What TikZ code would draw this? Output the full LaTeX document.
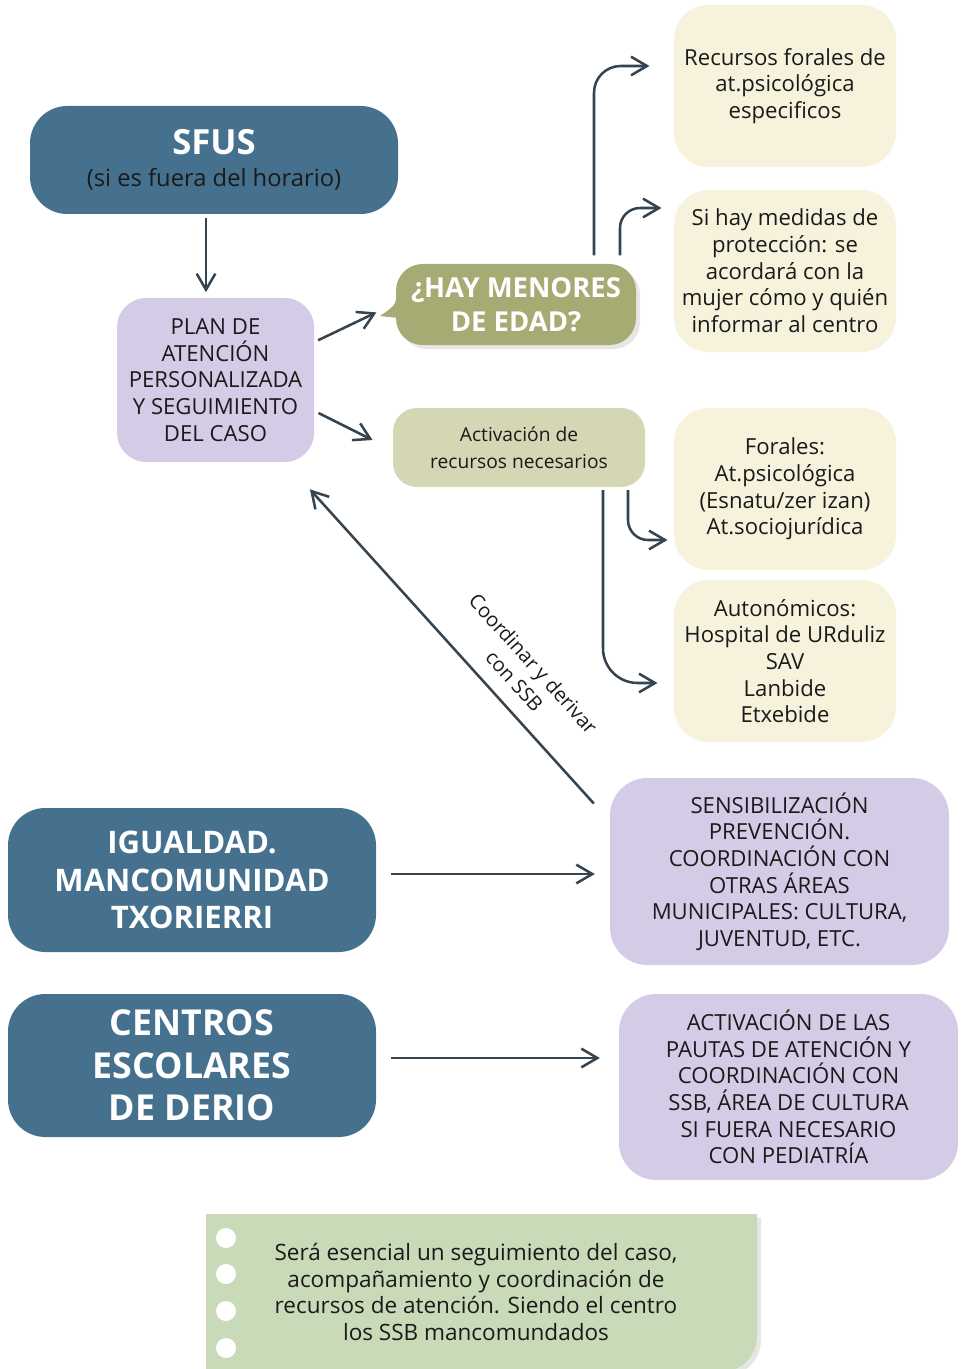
\documentclass[tikz,border=0pt]{standalone}
\usepackage{fontspec}
\setmainfont{Open Sans}
\usetikzlibrary{arrows.meta,shadows}

\definecolor{sfusblue}{RGB}{69,113,142}
\definecolor{lila}{RGB}{212,204,230}
\definecolor{olivebox}{RGB}{166,171,116}
\definecolor{lightolive}{RGB}{212,214,180}
\definecolor{cream}{RGB}{246,242,219}
\definecolor{notegreen}{RGB}{201,218,184}
\definecolor{arrowgrey}{RGB}{54,68,79}
\definecolor{darktext}{RGB}{26,26,26}

\tikzset{every picture/.style={line width=0.75pt}}

\begin{document}
\begin{tikzpicture}[x=0.75pt,y=0.75pt,yscale=-1,xscale=1,
  arr/.style={draw=arrowgrey,line width=1.9pt,-{Straight Barb[length=12pt,width=14pt,line width=1.9pt]}},
  bluebox/.style={fill=sfusblue,rounded corners=28pt,text=white,align=center,inner sep=0pt},
  lilabox/.style={fill=lila,rounded corners=22pt,text=darktext,align=center,inner sep=0pt},
  creambox/.style={fill=cream,rounded corners=26pt,text=darktext,align=center,inner sep=0pt,
    minimum width=166.5pt,minimum height=121.5pt,font=\fontsize{16.6}{20}\selectfont}]
    \useasboundingbox (0,0) rectangle (965,1369);

    %Shape: SFUS
    \node[bluebox,minimum width=276pt,minimum height=81pt,font=\fontsize{17.8}{24}\selectfont] (sfus) at (214,160)
      {{\fontsize{26}{24}\selectfont\bfseries SFUS}\\
       {\color{darktext}(si es fuera del horario)}};
    %Shape: plan de atencion
    \node[lilabox,minimum width=147.75pt,minimum height=123pt,font=\fontsize{16.6}{20}\selectfont] (plan) at (215.5,380)
      {PLAN DE\\ATENCIÓN\\PERSONALIZADA\\Y SEGUIMIENTO\\DEL CASO};
    %Shape: callout menores
    \node[fill=olivebox,rounded corners=20pt,minimum width=180pt,minimum height=60.75pt,inner sep=0pt,
      drop shadow={opacity=0.2,shadow xshift=3pt,shadow yshift=-3pt},
      text=white,align=center,font=\fontsize{20.6}{25.5}\selectfont\bfseries] (menores) at (516,304.5)
      {¿HAY MENORES\\DE EDAD?};
    \coordinate (tailtip) at (380,316);
    \fill[olivebox] (397,290) .. controls (396,305) .. (tailtip) -- (398,318) -- cycle;
    %Shape: activacion
    \node[fill=lightolive,rounded corners=18pt,minimum width=189pt,minimum height=59.25pt,inner sep=0pt,
      text=darktext,align=center,font=\fontsize{14.4}{20}\selectfont] (activ) at (519,447.5)
      {Activación de\\recursos necesarios};

    %Shape: cream boxes
    \node[creambox] (forales) at (785,86) {Recursos forales de\\at.psicológica\\especificos};
    \node[creambox] (medidas) at (785,271) {Si hay medidas de\\protección: se\\acordará con la\\mujer cómo y quién\\informar al centro};
    \node[creambox] (foralesdos) at (785,489) {Forales:\\At.psicológica\\(Esnatu/zer izan)\\At.sociojurídica};
    \node[creambox] (auton) at (785,661) {Autonómicos:\\Hospital de URduliz\\SAV\\Lanbide\\Etxebide};

    %Shape: igualdad / centros
    \node[bluebox,minimum width=276pt,minimum height=108pt,font=\fontsize{23.3}{28}\selectfont\bfseries] (igualdad) at (192,880)
      {IGUALDAD.\\MANCOMUNIDAD\\TXORIERRI};
    \node[bluebox,minimum width=276pt,minimum height=107.25pt,font=\fontsize{26.8}{32}\selectfont\bfseries] (centros) at (192,1065.5)
      {CENTROS\\ESCOLARES\\DE DERIO};
    \node[lilabox,rounded corners=28pt,minimum width=254.25pt,minimum height=140.25pt,font=\fontsize{16.6}{20}\selectfont] (sensib) at (779.5,871.5)
      {SENSIBILIZACIÓN\\PREVENCIÓN.\\COORDINACIÓN CON\\OTRAS ÁREAS\\MUNICIPALES: CULTURA,\\JUVENTUD, ETC.};
    \node[lilabox,rounded corners=28pt,minimum width=254.25pt,minimum height=139.5pt,font=\fontsize{16.6}{20}\selectfont] (pautas) at (788.5,1087)
      {ACTIVACIÓN DE LAS\\PAUTAS DE ATENCIÓN Y\\COORDINACIÓN CON\\SSB, ÁREA DE CULTURA\\SI FUERA NECESARIO\\CON PEDIATRÍA};

    %Shape: nota
    \fill[notegreen,drop shadow={opacity=0.2,shadow xshift=3pt,shadow yshift=-3pt}]
      (206,1214) -- (757,1214) [rounded corners=27pt] -- (757,1372) [sharp corners] -- (206,1372) -- cycle;
    \foreach \cy in {1238,1274,1311,1348}
      \fill[white] (226,\cy) circle (7.5pt);
    \node[text=darktext,align=center,font=\fontsize{16.9}{20}\selectfont] (nota) at (476,1292)
      {Será esencial un seguimiento del caso,\\acompañamiento y coordinación de\\recursos de atención. Siendo el centro\\los SSB mancomundados};

    %Straight Lines
    \draw[arr,shorten <=3pt,shorten >=4pt] (sfus.south -| 206,0) -- (plan.north -| 206,0);
    \draw[arr,shorten <=3pt,shorten >=3pt] (plan.east |- 0,342) -- ([yshift=-4pt]tailtip);
    \draw[arr,shorten <=3.4pt,shorten >=16.7pt] (plan.east |- 0,411) -- (activ.west |- 0,450);
    \draw[arr,shorten <=3pt,shorten >=15pt] ([shift={(-13,29)}]sensib.north west) -- ([shift={(-18,12)}]plan.south east);
    \node[rotate=-48,align=center,text=darktext,font=\fontsize{15}{19}\selectfont] (coordlabel) at (524,672)
      {Coordinar y derivar\\con SSB};
    \draw[arr,shorten <=11pt,shorten >=11pt] (igualdad.east |- 0,874) -- (sensib.west |- 0,874);
    \draw[arr,shorten <=11pt,shorten >=14pt] (centros.east |- 0,1058) -- (pautas.west |- 0,1058);

    %Curved Lines
    \draw[arr,rounded corners=20pt,shorten <=6pt,shorten >=18pt] (menores.north -| 594,0) |- (forales.west |- 0,66);
    \draw[arr,rounded corners=15pt,shorten <=6pt,shorten >=9pt] (menores.north -| 620,0) |- (medidas.west |- 0,208);
    \draw[arr,rounded corners=15pt,shorten <=2pt,shorten >=4.5pt] (activ.south -| 628,0) |- (foralesdos.west |- 0,540);
    \draw[arr,rounded corners=26pt,shorten <=2pt,shorten >=12pt] (activ.south -| 603,0) |- (auton.west |- 0,683);

\end{tikzpicture}
\end{document}
